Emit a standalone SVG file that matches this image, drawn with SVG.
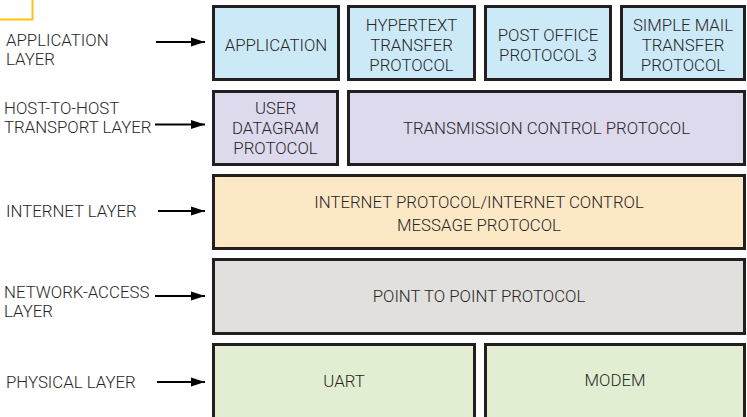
<svg xmlns="http://www.w3.org/2000/svg" width="747" height="417" viewBox="0 0 747 417">
<defs>
<style>
text{font-family:Roboto,"Liberation Sans",sans-serif;font-size:16.8px;font-weight:300;fill:#262626}
.c{text-anchor:middle}
.b{stroke:#231f20;stroke-width:3}
.app{fill:#cce9f8}.tr{fill:#dddaee}.ip{fill:#fde8c6}.na{fill:#e1e0dc}.ph{fill:#e2eed2}
.ar{stroke:#000;stroke-width:1.8;fill:none;marker-end:url(#ah)}
</style>
<marker id="ah" markerUnits="userSpaceOnUse" markerWidth="16" markerHeight="12" refX="14" refY="5" orient="auto">
<path d="M0,0.5 L14,5 L0,9.5 Z" fill="#000"/>
</marker>
</defs>
<path d="M0,19.5 H32.5 V0" fill="none" stroke="#ffc20e" stroke-width="2"/>
<g id="labels">
<text x="6" y="46">APPLICATION</text><text x="6" y="65">LAYER</text>
<text x="4" y="114">HOST-TO-HOST</text><text x="4" y="133">TRANSPORT LAYER</text>
<text x="6" y="216.5">INTERNET LAYER</text>
<text x="4" y="298">NETWORK-ACCESS</text><text x="4" y="317">LAYER</text>
<text x="6" y="388">PHYSICAL LAYER</text>
</g>
<g id="connectors">
<line class="ar" x1="156" y1="42" x2="205" y2="42"/>
<line class="ar" x1="155" y1="124.5" x2="205" y2="124.5"/>
<line class="ar" x1="158" y1="211" x2="205" y2="211"/>
<line class="ar" x1="155" y1="296" x2="205" y2="296"/>
<line class="ar" x1="157" y1="382" x2="205" y2="382"/>
</g>
<g id="application"><rect class="b app" x="213.5" y="6.5" width="125" height="73"/><text class="c" x="276" y="50.5">APPLICATION</text></g>
<g id="http"><rect class="b app" x="348.5" y="6.5" width="126" height="73"/><text class="c" x="411.5" y="31">HYPERTEXT</text><text class="c" x="411.5" y="51">TRANSFER</text><text class="c" x="411.5" y="71">PROTOCOL</text></g>
<g id="pop3"><rect class="b app" x="485.5" y="6.5" width="125" height="73"/><text class="c" x="548" y="41">POST OFFICE</text><text class="c" x="548" y="61">PROTOCOL 3</text></g>
<g id="smtp"><rect class="b app" x="621.5" y="6.5" width="123" height="73"/><text class="c" x="683" y="31">SIMPLE MAIL</text><text class="c" x="683" y="51">TRANSFER</text><text class="c" x="683" y="71">PROTOCOL</text></g>
<g id="udp"><rect class="b tr" x="213.5" y="91.5" width="124" height="73"/><text class="c" x="275.5" y="114">USER</text><text class="c" x="275.5" y="134">DATAGRAM</text><text class="c" x="275.5" y="154">PROTOCOL</text></g>
<g id="tcp"><rect class="b tr" x="348.5" y="91.5" width="396" height="73"/><text class="c" x="546.5" y="134">TRANSMISSION CONTROL PROTOCOL</text></g>
<g id="ip"><rect class="b ip" x="213.5" y="175.5" width="531" height="73"/><text class="c" x="479" y="208">INTERNET PROTOCOL/INTERNET CONTROL</text><text class="c" x="479" y="231">MESSAGE PROTOCOL</text></g>
<g id="ppp"><rect class="b na" x="213.5" y="259.5" width="531" height="74"/><text class="c" x="479" y="302">POINT TO POINT PROTOCOL</text></g>
<g id="uart"><rect class="b ph" x="213.5" y="344.5" width="261" height="74"/><text class="c" x="344" y="386.5">UART</text></g>
<g id="modem"><rect class="b ph" x="485.5" y="344.5" width="259" height="74"/><text class="c" x="615" y="386">MODEM</text></g>
</svg>
